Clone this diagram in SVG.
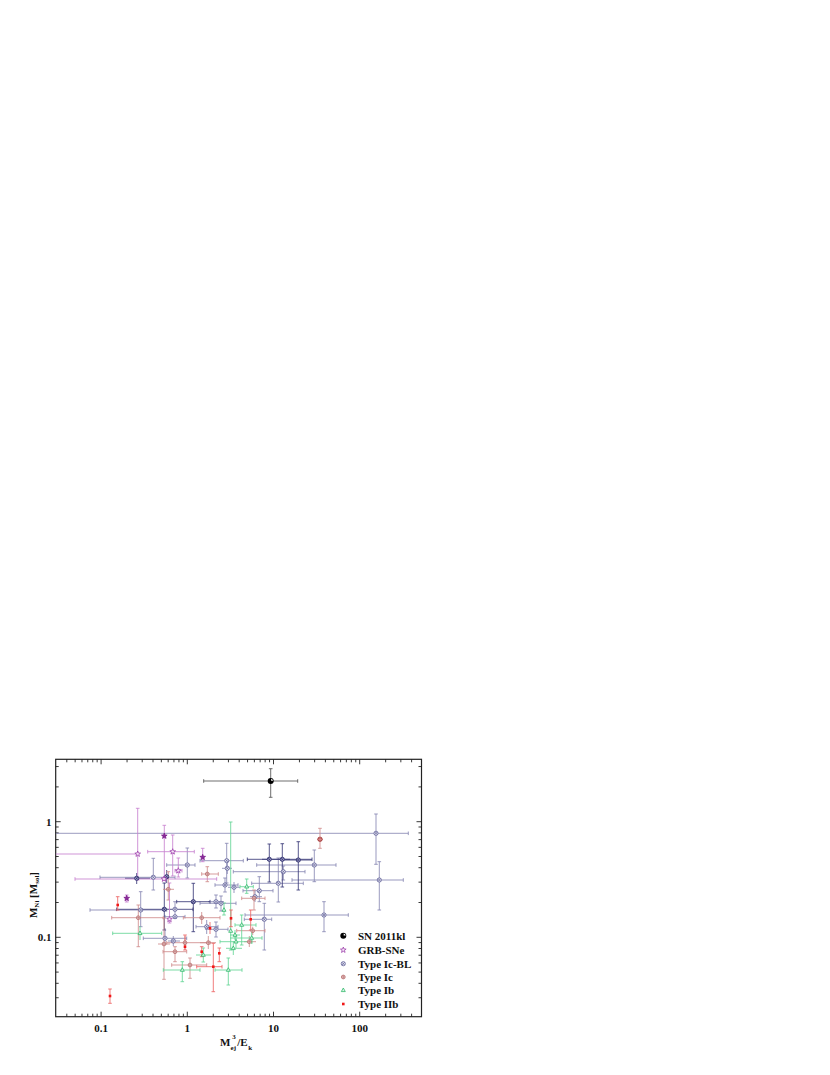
<svg xmlns="http://www.w3.org/2000/svg" width="830" height="1075" viewBox="0 0 830 1075">
<style>
.lab{font-family:"Liberation Serif","Times New Roman",serif;font-weight:bold;font-size:11px;fill:#111}
.sm{font-size:7px}
.ax{fill:none;stroke:#222;stroke-width:1.2}
.tk{fill:none;stroke:#222;stroke-width:0.9}
.e{fill:none;stroke-width:0.85}
.kl{stroke:#555}
.bl{stroke:#8888b4}
.bln{stroke:#3a3a78}
.ic{stroke:#d08c8c}
.ib{stroke:#64d496}
.iib{stroke:#ec6464}
.grb{stroke:#c882d0}
</style>
<defs>
<clipPath id="plot"><rect x="55.7" y="759.3" width="365.8" height="257.4"/></clipPath>
<g id="mKL"><circle r="3" fill="#000"/><path d="M0.4,-2.3A2.4,2.4 0 0 1 2.4,-0.3L0.4,-0.3Z" fill="#fff"/></g>
<g id="mBL"><circle r="2.1" fill="#e6e6f2" stroke="#5c5c94" stroke-width="0.75"/><path d="M-1.4,-1.4L1.4,1.4M-1.4,1.4L1.4,-1.4" stroke="#5c5c94" stroke-width="0.65"/></g>
<g id="mBLd"><circle r="2.1" fill="#a0a0c8" stroke="#2c2c6a" stroke-width="0.85"/><path d="M-1.4,-1.4L1.4,1.4M-1.4,1.4L1.4,-1.4" stroke="#2c2c6a" stroke-width="0.65"/></g>
<g id="mIc"><circle r="1.9" fill="#f2d6d6" stroke="#b46a6a" stroke-width="0.75"/><path d="M-1.9,0H1.9M0,-1.9V1.9" stroke="#b46a6a" stroke-width="0.6"/></g>
<g id="mIcf"><circle r="2.2" fill="#b84848" stroke="#a03a3a" stroke-width="0.8"/><path d="M-2.2,0H2.2M0,-2.2V2.2" stroke="#e8b0b0" stroke-width="0.6"/></g>
<g id="mIb"><path d="M0,-2.3L2,1.3H-2Z" fill="#d8f6e4" stroke="#28b464" stroke-width="0.75"/></g>
<g id="mIIb"><rect x="-1.3" y="-1.3" width="2.6" height="2.6" fill="#f01818"/></g>
<g id="mGRB"><path d="M0,-3L0.735,-1.011L2.853,-0.927L1.189,0.386L1.763,2.427L0,1.25L-1.763,2.427L-1.189,0.386L-2.853,-0.927L-0.735,-1.011Z" fill="#f4e4f6" stroke="#9a3aa8" stroke-width="0.75"/></g>
<g id="mGRBf"><path d="M0,-3L0.735,-1.011L2.853,-0.927L1.189,0.386L1.763,2.427L0,1.25L-1.763,2.427L-1.189,0.386L-2.853,-0.927L-0.735,-1.011Z" fill="#8a2a9a" stroke="#7a1a8a" stroke-width="0.75"/></g>
</defs>
<rect width="830" height="1075" fill="#fff"/>

<g id="frame">
<rect class="ax" x="55.7" y="759.3" width="365.8" height="257.4"/>
<path class="tk" d="M101.1 1016.7v-5M187.3 1016.7v-5M273.5 1016.7v-5M359.7 1016.7v-5M101.1 759.3v5M187.3 759.3v5M273.5 759.3v5M359.7 759.3v5M55.7 821.7h5M55.7 937.3h5M421.5 821.7h-5M421.5 937.3h-5"/>
<path class="tk" d="M66.8 1016.7v-3M75.15 1016.7v-3M81.98 1016.7v-3M87.75 1016.7v-3M92.75 1016.7v-3M97.16 1016.7v-3M127.05 1016.7v-3M142.23 1016.7v-3M153 1016.7v-3M161.35 1016.7v-3M168.18 1016.7v-3M173.95 1016.7v-3M178.95 1016.7v-3M183.36 1016.7v-3M213.25 1016.7v-3M228.43 1016.7v-3M239.2 1016.7v-3M247.55 1016.7v-3M254.38 1016.7v-3M260.15 1016.7v-3M265.15 1016.7v-3M269.56 1016.7v-3M299.45 1016.7v-3M314.63 1016.7v-3M325.4 1016.7v-3M333.75 1016.7v-3M340.58 1016.7v-3M346.35 1016.7v-3M351.35 1016.7v-3M355.76 1016.7v-3M385.65 1016.7v-3M400.83 1016.7v-3M411.6 1016.7v-3"/>
<path class="tk" d="M66.8 759.3v3M75.15 759.3v3M81.98 759.3v3M87.75 759.3v3M92.75 759.3v3M97.16 759.3v3M127.05 759.3v3M142.23 759.3v3M153 759.3v3M161.35 759.3v3M168.18 759.3v3M173.95 759.3v3M178.95 759.3v3M183.36 759.3v3M213.25 759.3v3M228.43 759.3v3M239.2 759.3v3M247.55 759.3v3M254.38 759.3v3M260.15 759.3v3M265.15 759.3v3M269.56 759.3v3M299.45 759.3v3M314.63 759.3v3M325.4 759.3v3M333.75 759.3v3M340.58 759.3v3M346.35 759.3v3M351.35 759.3v3M355.76 759.3v3M385.65 759.3v3M400.83 759.3v3M411.6 759.3v3"/>
<path class="tk" d="M55.7 766.55h3M55.7 786.9h3M55.7 826.99h3M55.7 832.9h3M55.7 839.61h3M55.7 847.35h3M55.7 856.5h3M55.7 867.7h3M55.7 882.14h3M55.7 902.5h3M55.7 942.59h3M55.7 948.5h3M55.7 955.21h3M55.7 962.95h3M55.7 972.1h3M55.7 983.3h3M55.7 997.74h3"/>
<path class="tk" d="M421.5 766.55h-3M421.5 786.9h-3M421.5 826.99h-3M421.5 832.9h-3M421.5 839.61h-3M421.5 847.35h-3M421.5 856.5h-3M421.5 867.7h-3M421.5 882.14h-3M421.5 902.5h-3M421.5 942.59h-3M421.5 948.5h-3M421.5 955.21h-3M421.5 962.95h-3M421.5 972.1h-3M421.5 983.3h-3M421.5 997.74h-3"/>
</g>

<g id="tick-labels" class="lab">
<text x="101.1" y="1032" text-anchor="middle">0.1</text>
<text x="187.3" y="1032" text-anchor="middle">1</text>
<text x="273.5" y="1032" text-anchor="middle">10</text>
<text x="359.7" y="1032" text-anchor="middle">100</text>
<text x="51.5" y="825.7" text-anchor="end">1</text>
<text x="51.5" y="941.3" text-anchor="end">0.1</text>
</g>

<g id="axis-titles">
<text class="lab" x="220" y="1046">M</text>
<text class="lab sm" x="230.6" y="1050">ej</text>
<text class="lab sm" x="232.2" y="1039">3</text>
<text class="lab" x="237.2" y="1046">/E</text>
<text class="lab sm" x="248.2" y="1050">k</text>
<text class="lab" transform="translate(36.5,895) rotate(-90)" text-anchor="middle">M<tspan class="sm" dy="2">Ni</tspan><tspan dy="-2"> [M</tspan><tspan class="sm" dy="2">sol</tspan><tspan dy="-2">]</tspan></text>
</g>

<g id="data" clip-path="url(#plot)">
<g id="bars-Ic-BL" class="e bl">
<path d="M55.7 833.3H408.3M408.3 831.5V835.1M376 814V864.3M374.2 814H377.8M374.2 864.3H377.8"/>
<path d="M292 880H403.3M292 878.2V881.8M403.3 878.2V881.8M379.3 861.7V910M377.5 861.7H381.1M377.5 910H381.1"/>
<path d="M245 915H348.3M245 913.2V916.8M348.3 913.2V916.8M324 901.7V931.7M322.2 901.7H325.8M322.2 931.7H325.8"/>
<path d="M256.7 865H336M256.7 863.2V866.8M336 863.2V866.8M314.3 850V881.7M312.5 850H316.1M312.5 881.7H316.1"/>
<path d="M233.3 871.7H305M233.3 869.9V873.5M305 869.9V873.5M283.3 866V880M281.5 866H285.1M281.5 880H285.1"/>
<path d="M251.7 883.3H303.3M251.7 881.5V885.1M303.3 881.5V885.1M278.3 858V902M276.5 858H280.1M276.5 902H280.1"/>
<path d="M243 890.7H273M243 888.9V892.5M273 888.9V892.5M259.3 876.7V901.7M257.5 876.7H261.1M257.5 901.7H261.1"/>
<path d="M244.3 919.3H271.7M244.3 917.5V921.1M271.7 917.5V921.1M264.3 903.3V950M262.5 903.3H266.1M262.5 950H266.1"/>
<path d="M200 860.7H243.3M200 858.9V862.5M243.3 858.9V862.5M226.7 843.3V883M224.9 843.3H228.5M224.9 883H228.5"/>
<path d="M222 868.3H232M227.3 862V874"/>
<path d="M215 885H238M215 883.2V886.8M238 883.2V886.8M225 878V892M223.2 878H226.8M223.2 892H226.8"/>
<path d="M228 887.3H240M234 882V893"/>
<path d="M200 903.3H236M200 901.5V905.1M236 901.5V905.1M221 896V911M219.2 896H222.8M219.2 911H222.8"/>
<path d="M208 901.7H224M216 895V908M214.2 895H217.8M214.2 908H217.8"/>
<path d="M196 926.7H218M196 924.9V928.5M218 924.9V928.5M206.7 920V934"/>
<path d="M205 929.3H228M228 927.5V931.1M216 922V937M214.2 922H217.8M214.2 937H217.8"/>
<path d="M166.7 865H195M166.7 863.2V866.8M195 863.2V866.8M187.3 848V878M185.5 848H189.1M185.5 878H189.1"/>
<path d="M100 877.3H175M100 875.5V879.1M175 875.5V879.1M153.3 858.3V890M151.5 858.3H155.1M151.5 890H155.1"/>
<path d="M90 910H166.7M90 908.2V911.8M166.7 908.2V911.8M140.7 891.7V926.7M138.9 891.7H142.5M138.9 926.7H142.5"/>
<path d="M175 901.7V918.3M173.2 901.7H176.8M173.2 918.3H176.8"/>
<path d="M165 916.7H185M165 914.9V918.5M185 914.9V918.5"/>
<path d="M143.3 938.3H186.7M143.3 936.5V940.1M186.7 936.5V940.1M165 928V945"/>
<path d="M168 941H180M173.3 936V946"/>
<path d="M250 896.7H262M255 891V902"/>
</g>
<g id="bars-Ic-BL-dark" class="e bln">
<path d="M247.3 859.3H290M247.3 857.5V861.1M269.3 844V882M267.5 844H271.1M267.5 882H271.1"/>
<path d="M262 859.3H312M312 857.5V861.1M282.3 843.7V887M280.5 843.7H284.1M280.5 887H284.1"/>
<path d="M283 860H311.7M298.3 841.7V890M296.5 841.7H300.1M296.5 890H300.1"/>
<path d="M125 878.3H150M136.7 873V884"/>
<path d="M116.7 909.3H193M116.7 907.5V911.1M193 907.5V911.1M164.3 883V930M162.5 883H166.1M162.5 930H166.1"/>
<path d="M176.7 901.7H210M176.7 899.9V903.5M210 899.9V903.5M193.3 883.3V931.7M191.5 883.3H195.1M191.5 931.7H195.1"/>
<path d="M166.7 870V883"/>
</g>
<g id="bars-Ic" class="e ic">
<path d="M320 828.3V848.3M318.2 828.3H321.8M318.2 848.3H321.8M317 839.3H323"/>
<path d="M201.7 874H218.3M201.7 872.2V875.8M218.3 872.2V875.8M207.3 866.7V881.7M205.5 866.7H209.1M205.5 881.7H209.1"/>
<path d="M163 889.3H174M168.3 871.7V900M166.5 871.7H170.1M166.5 900H170.1"/>
<path d="M241.7 898.3H265M241.7 896.5V900.1M265 896.5V900.1M254 890V910M252.2 890H255.8M252.2 910H255.8"/>
<path d="M236.7 930.7H265M236.7 928.9V932.5M265 928.9V932.5M252.7 926.7V935"/>
<path d="M244 941.7H256M249.3 936V947"/>
<path d="M111.7 917.7H163.3M111.7 915.9V919.5M163.3 915.9V919.5M138.3 905V946.7M136.5 905H140.1M136.5 946.7H140.1"/>
<path d="M183.3 917.7H220M183.3 915.9V919.5M220 915.9V919.5M201.7 912V924"/>
<path d="M166.7 942.7H210M166.7 940.9V944.5M210 940.9V944.5M185 936V950"/>
<path d="M200 942.7H216M208.3 936V949"/>
<path d="M163 951.7H186.7M163 949.9V953.5M186.7 949.9V953.5M175 946.7V961.7M173.2 946.7H176.8M173.2 961.7H176.8"/>
<path d="M171.7 965H206.7M171.7 963.2V966.8M206.7 963.2V966.8M190 958V978.3M188.2 958H191.8M188.2 978.3H191.8"/>
<path d="M158 944H170M164 918V979.3M162.2 918H165.8M162.2 979.3H165.8"/>
</g>
<g id="bars-Ib" class="e ib">
<path d="M230.7 822V950M228.9 822H232.5M228.9 950H232.5"/>
<path d="M224 903V915M222.2 903H225.8M222.2 915H225.8"/>
<path d="M240 886.7H253.3M240 884.9V888.5M253.3 884.9V888.5M246.7 879V893.3M244.9 879H248.5M244.9 893.3H248.5"/>
<path d="M235 925H256M235 923.2V926.8M256 923.2V926.8M241.7 915V945M239.9 915H243.5M239.9 945H243.5"/>
<path d="M230 938H262M262 936.2V939.8M251.7 932V944"/>
<path d="M112.7 933.3H161.7M112.7 931.5V935.1M161.7 931.5V935.1M140 926V940"/>
<path d="M163.3 970H200M163.3 968.2V971.8M200 968.2V971.8M182.3 961.7V981.7M180.5 961.7H184.1M180.5 981.7H184.1"/>
<path d="M196 955H211M203.3 948V962M201.5 948H205.1M201.5 962H205.1"/>
<path d="M215 970H242M215 968.2V971.8M242 968.2V971.8M228.3 958V985M226.5 958H230.1M226.5 985H230.1"/>
<path d="M220 941.7H252M220 939.9V943.5M252 939.9V943.5M236 935V948"/>
<path d="M226 948.3H242M233.3 941V955"/>
<path d="M230 935H240M235 930V940"/>
</g>
<g id="bars-IIb" class="e iib">
<path d="M110 989V1003.3M108.2 989H111.8M108.2 1003.3H111.8"/>
<path d="M117.7 896.7V910M115.9 896.7H119.5M115.9 910H119.5"/>
<path d="M210 922V934"/>
<path d="M231 910V926.7M229.2 910H232.8M229.2 926.7H232.8"/>
<path d="M250.7 910V930M248.9 910H252.5M248.9 930H252.5"/>
<path d="M185 935V950M183.2 935H186.8M183.2 950H186.8"/>
<path d="M201.7 946.7V956.7M199.9 946.7H203.5M199.9 956.7H203.5"/>
<path d="M219.3 948V961.7M217.5 948H221.1M217.5 961.7H221.1"/>
<path d="M196.7 966.7H222M196.7 964.9V968.5M222 964.9V968.5M213.3 943.3V991.7M211.5 943.3H215.1M211.5 991.7H215.1"/>
</g>
<g id="bars-GRB" class="e grb">
<path d="M55.7 854H137.7M137.7 808.3V880M135.9 808.3H139.5M135.9 880H139.5"/>
<path d="M164.3 825.3V880M162.5 825.3H166.1M162.5 880H166.1"/>
<path d="M147.7 851.7H194.3M147.7 849.9V853.5M194.3 849.9V853.5M172.7 835V876M170.9 835H174.5M170.9 876H174.5"/>
<path d="M175 870.7H182M175 868.9V872.5M182 868.9V872.5M178.3 858V877M176.5 858H180.1M176.5 877H180.1"/>
<path d="M202.7 848.3V861.7M200.9 848.3H204.5M200.9 861.7H204.5"/>
<path d="M75 879H216.7M75 877.2V880.8M216.7 877.2V880.8"/>
<path d="M126.7 895V902M124.9 895H128.5M124.9 902H128.5"/>
<path d="M169.5 883V923M167.7 883H171.3M167.7 923H171.3"/>
</g>
<g id="bars-SN2011kl" class="e kl">
<path d="M203.7 781H297.7M203.7 779.2V782.8M297.7 779.2V782.8M270.7 768.7V797.3M268.9 768.7H272.5M268.9 797.3H272.5"/>
</g>

<g id="pts-Ic-BL">
<use href="#mBL" x="376" y="833.3"/><use href="#mBL" x="379.3" y="880"/><use href="#mBL" x="324" y="915"/>
<use href="#mBL" x="314.3" y="865"/><use href="#mBL" x="283.3" y="871.7"/><use href="#mBL" x="278.3" y="883.3"/>
<use href="#mBL" x="259.3" y="890.7"/><use href="#mBL" x="264.3" y="919.3"/><use href="#mBL" x="226.7" y="860.7"/>
<use href="#mBL" x="227.3" y="868.3"/><use href="#mBL" x="225" y="885"/><use href="#mBL" x="234" y="887.3"/>
<use href="#mBL" x="221" y="903.3"/><use href="#mBL" x="216" y="901.7"/><use href="#mBL" x="206.7" y="926.7"/>
<use href="#mBL" x="216" y="929.3"/><use href="#mBL" x="187.3" y="865"/><use href="#mBL" x="153.3" y="877.3"/>
<use href="#mBL" x="140.7" y="910"/><use href="#mBL" x="175" y="909.3"/><use href="#mBL" x="175" y="916.7"/>
<use href="#mBL" x="165" y="938.3"/><use href="#mBL" x="173.3" y="941"/><use href="#mBL" x="255" y="896.7"/>
<use href="#mBLd" x="269.3" y="859.3"/><use href="#mBLd" x="282.3" y="859.3"/><use href="#mBLd" x="298.3" y="860"/>
<use href="#mBLd" x="136.7" y="878.3"/><use href="#mBLd" x="164.3" y="909.3"/><use href="#mBLd" x="193.3" y="901.7"/>
<use href="#mBLd" x="166.7" y="876.7"/>
</g>
<g id="pts-Ic">
<use href="#mIcf" x="320" y="839.3"/><use href="#mIc" x="207.3" y="874"/><use href="#mIc" x="168.3" y="889.3"/>
<use href="#mIc" x="254" y="898.3"/><use href="#mIc" x="252.7" y="930.7"/><use href="#mIc" x="249.3" y="941.7"/>
<use href="#mIc" x="138.3" y="917.7"/><use href="#mIc" x="201.7" y="917.7"/><use href="#mIc" x="185" y="942.7"/>
<use href="#mIc" x="208.3" y="942.7"/><use href="#mIc" x="175" y="951.7"/><use href="#mIc" x="190" y="965"/>
<use href="#mIc" x="164" y="944"/>
</g>
<g id="pts-Ib">
<use href="#mIb" x="230.7" y="931"/><use href="#mIb" x="224" y="910"/><use href="#mIb" x="246.7" y="886.7"/>
<use href="#mIb" x="241.7" y="925"/><use href="#mIb" x="251.7" y="938"/><use href="#mIb" x="140" y="933.3"/>
<use href="#mIb" x="182.3" y="970"/><use href="#mIb" x="203.3" y="955"/><use href="#mIb" x="228.3" y="970"/>
<use href="#mIb" x="236" y="941.7"/><use href="#mIb" x="233.3" y="948.3"/><use href="#mIb" x="235" y="935"/>
</g>
<g id="pts-IIb">
<use href="#mIIb" x="110" y="996"/><use href="#mIIb" x="117.7" y="905"/><use href="#mIIb" x="210" y="928.3"/>
<use href="#mIIb" x="231" y="918.3"/><use href="#mIIb" x="250.7" y="919.3"/><use href="#mIIb" x="185" y="946.7"/>
<use href="#mIIb" x="201.7" y="951.7"/><use href="#mIIb" x="219.3" y="953.3"/><use href="#mIIb" x="213.3" y="966.7"/>
</g>
<g id="pts-GRB">
<use href="#mGRB" x="137.7" y="854"/><use href="#mGRBf" x="164.3" y="836"/><use href="#mGRB" x="172.7" y="851.7"/>
<use href="#mGRB" x="178.3" y="870.7"/><use href="#mGRBf" x="202.7" y="857.3"/><use href="#mGRB" x="164" y="879"/>
<use href="#mGRBf" x="126.7" y="898.3"/><use href="#mGRB" x="169.5" y="919.3"/>
</g>
<g id="pt-SN2011kl"><use href="#mKL" x="270.7" y="781"/></g>
</g>

<g id="legend" class="lab">
<use href="#mKL" x="343.3" y="935.7"/><text x="358" y="939.7">SN 2011kl</text>
<use href="#mGRB" x="343.3" y="950"/><text x="358" y="954">GRB-SNe</text>
<use href="#mBL" x="343.3" y="963.7"/><text x="358" y="967.7">Type Ic-BL</text>
<use href="#mIc" x="343.3" y="977"/><text x="358" y="981">Type Ic</text>
<use href="#mIb" x="343.3" y="990.3"/><text x="358" y="994.3">Type Ib</text>
<use href="#mIIb" x="343.3" y="1004"/><text x="358" y="1008">Type IIb</text>
</g>
</svg>
